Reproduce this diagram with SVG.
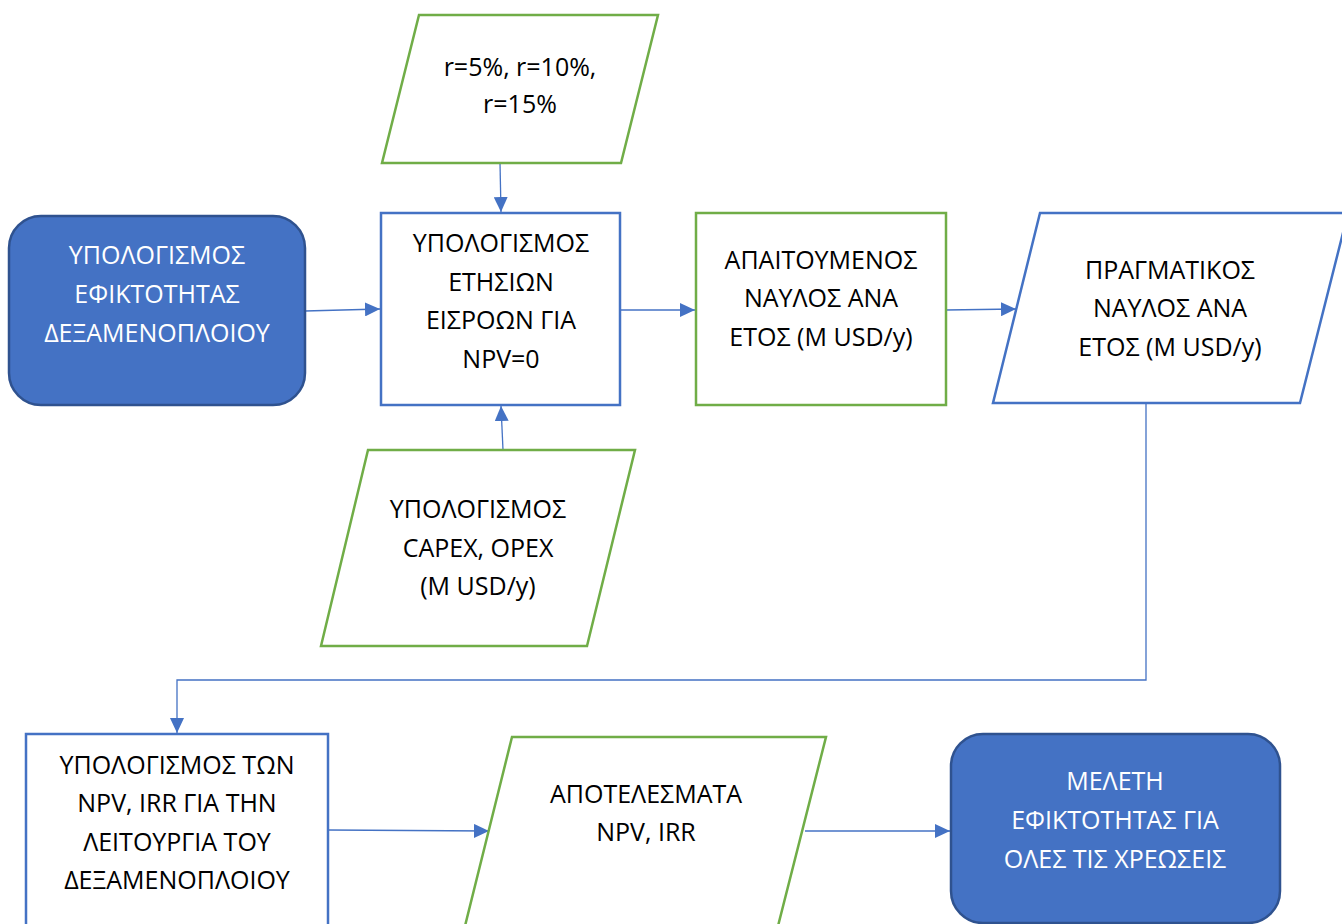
<svg xmlns="http://www.w3.org/2000/svg" width="1342" height="924" viewBox="0 0 1342 924">
  <style>
    .term { fill: #4472C4; stroke: #2F528F; stroke-width: 2.5; }
    .proc { fill: #FFFFFF; stroke: #4472C4; stroke-width: 2.5; }
    .out  { fill: #FFFFFF; stroke: #70AD47; stroke-width: 2.5; }
    .io   { fill: #FFFFFF; stroke: #70AD47; stroke-width: 2.5; }
    .io-b { fill: #FFFFFF; stroke: #4472C4; stroke-width: 2.5; }
    .conn { fill: none; stroke: #4472C4; stroke-width: 1.3; }
    text { font-family: "Open Sans", "Noto Sans", "DejaVu Sans", sans-serif; font-size: 25px; text-anchor: middle; fill: #000000; }
    .light { fill: #FFFFFF; }
  </style>
  <defs>
    <marker id="arrow" markerUnits="userSpaceOnUse" markerWidth="16" markerHeight="14" refX="15" refY="7" orient="auto">
      <path d="M0,0 L15,7 L0,14 Z" fill="#4472C4"/>
    </marker>
  </defs>

  <rect width="1342" height="924" fill="#FFFFFF"/>

  <!-- connectors -->
  <g id="connectors">
    <path class="conn" d="M305,311 L380,309" marker-end="url(#arrow)"/>
    <path class="conn" d="M500,163 L501,212" marker-end="url(#arrow)"/>
    <path class="conn" d="M503,450 L501,406" marker-end="url(#arrow)"/>
    <path class="conn" d="M620,310 L695,310" marker-end="url(#arrow)"/>
    <path class="conn" d="M946,310 L1016,309" marker-end="url(#arrow)"/>
    <path class="conn" d="M1146,403 L1146,680 L177,680 L177,733" marker-end="url(#arrow)"/>
    <path class="conn" d="M328,830 L489,831" marker-end="url(#arrow)"/>
    <path class="conn" d="M805,831 L950,831" marker-end="url(#arrow)"/>
  </g>

  <!-- feasibility input -->
  <g id="feasibility">
    <rect class="term" x="9" y="216" width="296" height="189" rx="32" ry="32"/>
    <text class="light" x="157" y="264">ΥΠΟΛΟΓΙΣΜΟΣ</text>
    <text class="light" x="157" y="303">ΕΦΙΚΤΟΤΗΤΑΣ</text>
    <text class="light" x="157" y="342">ΔΕΞΑΜΕΝΟΠΛΟΙΟΥ</text>
  </g>

  <!-- annual inflow calculation -->
  <g id="annual-inflows">
    <rect class="proc" x="381" y="213" width="239" height="192"/>
    <text x="501" y="252">ΥΠΟΛΟΓΙΣΜΟΣ</text>
    <text x="501" y="291">ΕΤΗΣΙΩΝ</text>
    <text x="501" y="329">ΕΙΣΡΟΩΝ ΓΙΑ</text>
    <text x="501" y="368">NPV=0</text>
  </g>

  <!-- discount rates -->
  <g id="rates">
    <polygon class="io" points="419,15 658,15 621,163 382,163"/>
    <text x="520" y="76">r=5%, r=10%,</text>
    <text x="520" y="113">r=15%</text>
  </g>

  <!-- capex / opex -->
  <g id="capex-opex">
    <polygon class="io" points="368,450 635,450 587,646 321,646"/>
    <text x="478" y="518">ΥΠΟΛΟΓΙΣΜΟΣ</text>
    <text x="478" y="557">CAPEX, OPEX</text>
    <text x="478" y="595">(M USD/y)</text>
  </g>

  <!-- required freight -->
  <g id="required-freight">
    <rect class="out" x="696" y="213" width="250" height="192"/>
    <text x="821" y="269">ΑΠΑΙΤΟΥΜΕΝΟΣ</text>
    <text x="821" y="307">ΝΑΥΛΟΣ ΑΝΑ</text>
    <text x="821" y="346">ΕΤΟΣ (M USD/y)</text>
  </g>

  <!-- actual freight -->
  <g id="actual-freight">
    <polygon class="io-b" points="1040,213 1348,213 1300,403 993,403"/>
    <text x="1170" y="279">ΠΡΑΓΜΑΤΙΚΟΣ</text>
    <text x="1170" y="317">ΝΑΥΛΟΣ ΑΝΑ</text>
    <text x="1170" y="356">ΕΤΟΣ (M USD/y)</text>
  </g>

  <!-- NPV / IRR calculation -->
  <g id="npv-irr-calc">
    <rect class="proc" x="26" y="734" width="302" height="200"/>
    <text x="177" y="774">ΥΠΟΛΟΓΙΣΜΟΣ ΤΩΝ</text>
    <text x="177" y="812">NPV, IRR ΓΙΑ ΤΗΝ</text>
    <text x="177" y="851">ΛΕΙΤΟΥΡΓΙΑ ΤΟΥ</text>
    <text x="177" y="889">ΔΕΞΑΜΕΝΟΠΛΟΙΟΥ</text>
  </g>

  <!-- results -->
  <g id="results">
    <polygon class="io" points="512,737 826,737 777,930 464,930"/>
    <text x="646" y="803">ΑΠΟΤΕΛΕΣΜΑΤΑ</text>
    <text x="646" y="841">NPV, IRR</text>
  </g>

  <!-- all-charges study -->
  <g id="all-charges">
    <rect class="term" x="951" y="734" width="329" height="189" rx="32" ry="32"/>
    <text class="light" x="1115" y="790">ΜΕΛΕΤΗ</text>
    <text class="light" x="1115" y="829">ΕΦΙΚΤΟΤΗΤΑΣ ΓΙΑ</text>
    <text class="light" x="1115" y="868">ΟΛΕΣ ΤΙΣ ΧΡΕΩΣΕΙΣ</text>
  </g>
</svg>
